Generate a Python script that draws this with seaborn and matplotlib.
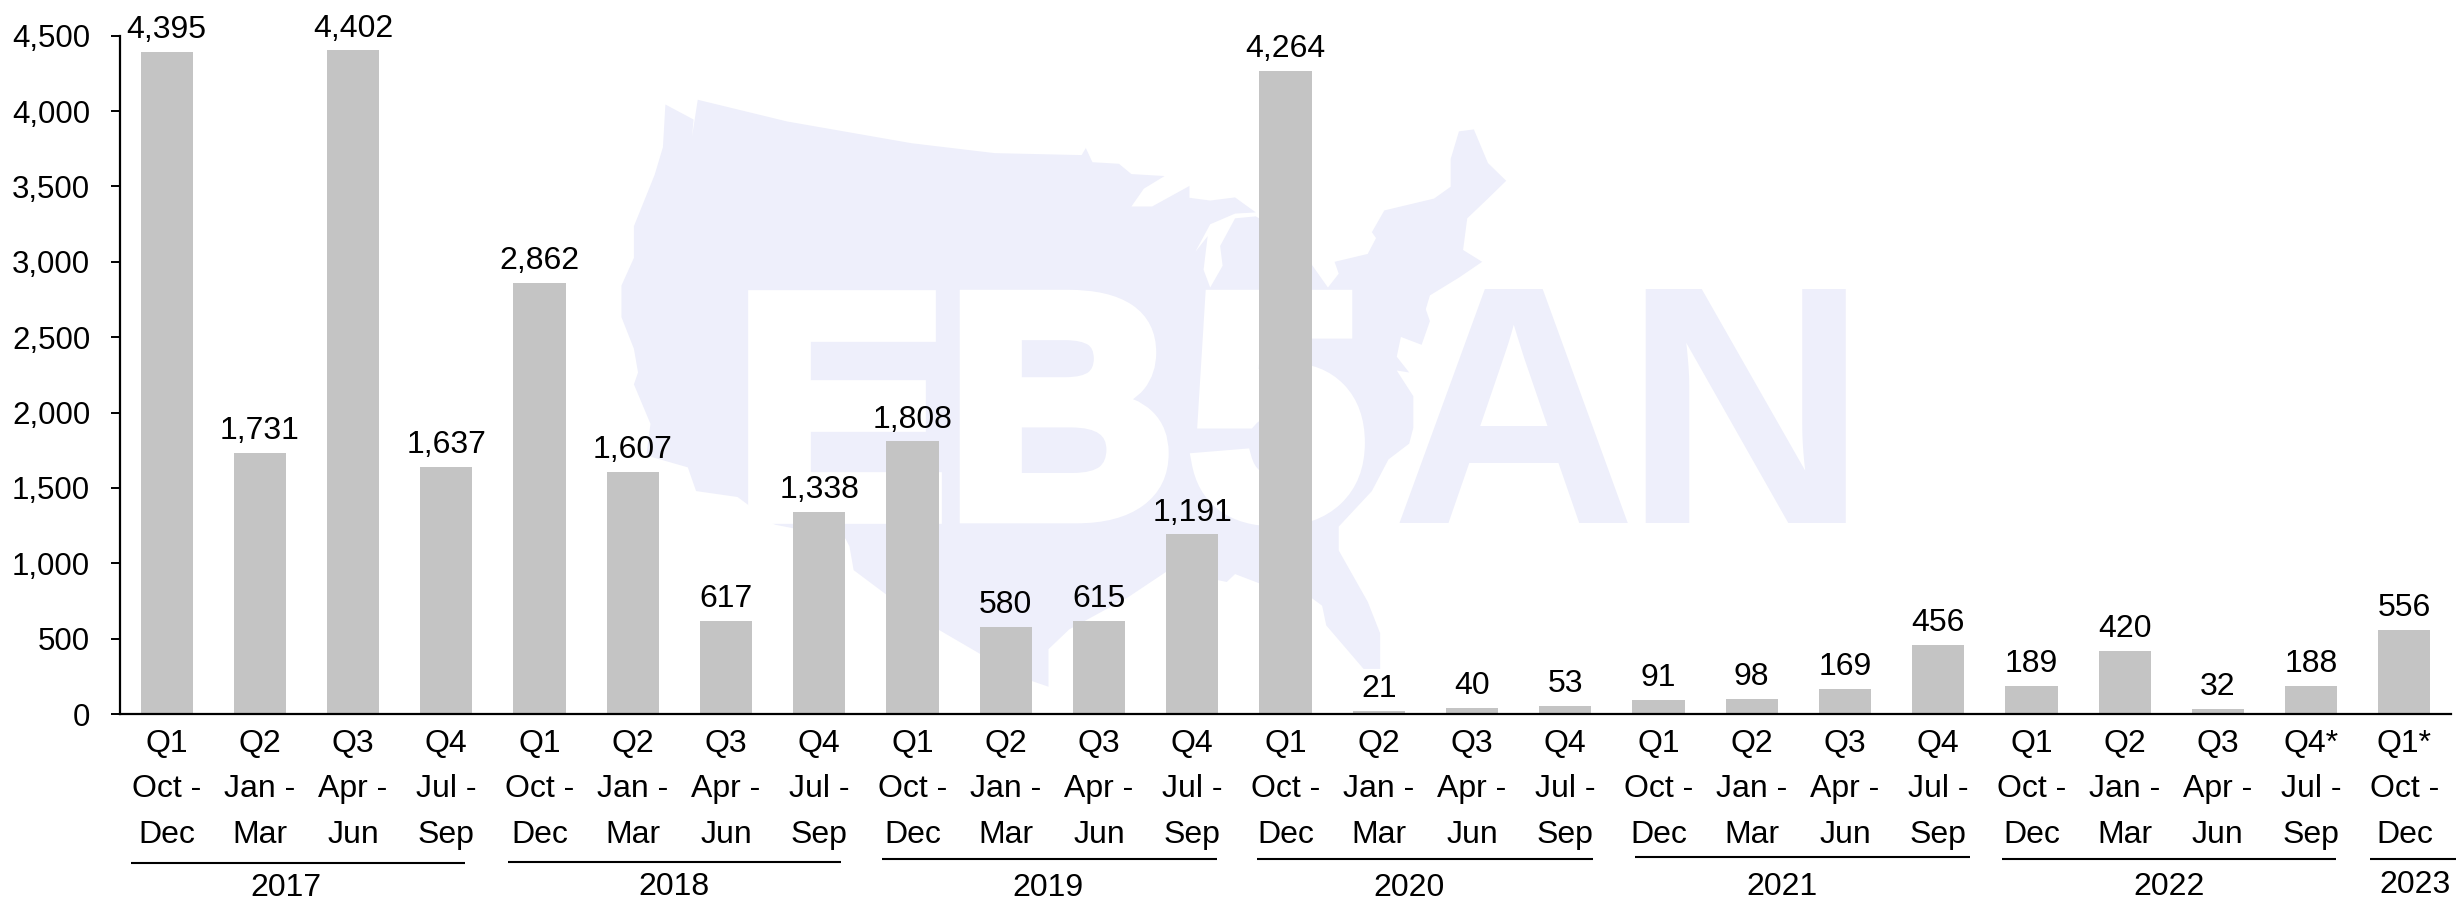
import numpy as np
import pandas as pd
import seaborn as sns
import matplotlib
matplotlib.use('Agg')
import matplotlib.pyplot as plt
import matplotlib.patheffects as pe
from matplotlib.patches import Polygon

# quarterly values, fiscal years 2017 - 2023
quarters = ['Q1', 'Q2', 'Q3', 'Q4'] * 6 + ['Q1']
quarters[23] = 'Q4*'
quarters[24] = 'Q1*'
months = ['Oct -\nDec', 'Jan -\nMar', 'Apr -\nJun', 'Jul -\nSep'] * 6 + ['Oct -\nDec']
values = [4395, 1731, 4402, 1637,
          2862, 1607, 617, 1338,
          1808, 580, 615, 1191,
          4264, 21, 40, 53,
          91, 98, 169, 456,
          189, 420, 32, 188,
          556]
y_ticks = [0, 500, 1000, 1500, 2000, 2500, 3000, 3500, 4000, 4500]

# year brackets under the axis: label, line start, line end, line y, label x, label y (pixels)
year_labels = ['2017', '2018', '2019', '2020', '2021', '2022', '2023']
year_x0 = [131, 508, 882, 1257, 1635, 2002, 2370]
year_x1 = [465, 841, 1217, 1593, 1970, 2336, 2456]
year_line_y = [863, 862, 859, 859, 857, 859, 859]
year_text_x = [286, 674, 1048, 1409, 1782, 2169, 2415]
year_text_y = [888, 887, 888, 888, 887, 887, 885]

# watermark outline in zoom coordinates
map_zx = [103, 137, 135, 142, 250, 400, 500, 605, 610, 618, 650, 665, 705, 680, 665, 690, 735, 735,
          760, 790, 815, 790, 760, 742, 757, 752, 760, 775, 772, 790, 815, 860, 902, 915, 910, 950, 960, 955, 970, 1030,
          1050, 1050, 1060, 1078, 1095, 1117, 1095, 1070, 1065, 1088, 1060, 1025, 1020, 1025, 1015,
          990, 985, 1000, 985, 1005, 1005, 1000, 975, 955, 915, 915, 950, 965, 965, 945, 900, 895,
          882, 840, 790, 780, 710, 660, 590, 565, 565, 530, 440, 400, 330, 325, 320, 235, 190, 140,
          130, 80, 85, 65, 70, 65, 50, 50, 65, 65, 90, 100]
map_zy = [62, 100, 145, 50, 105, 160, 185, 190, 172, 208, 212, 238, 243, 275, 320, 320, 268, 298,
          305, 297, 335, 338, 365, 435, 395, 480, 525, 470, 420, 350, 345, 400, 525, 490, 460, 440, 400, 385, 330, 300,
          270, 200, 130, 125, 210, 255, 300, 350, 430, 460, 500, 545, 580, 610, 670,
          650, 700, 740, 735, 800, 880, 920, 960, 1040, 1130, 1190, 1320, 1400, 1490, 1490, 1380, 1330,
          1310, 1290, 1250, 1270, 1240, 1310, 1390, 1440, 1535, 1510, 1400, 1350, 1240, 1180, 1160, 1125, 1055, 1040,
          980, 950, 870, 770, 740, 680, 600, 520, 450, 370, 240, 170]
wm_letters = ['E', 'B', '5', 'A', 'N']
wm_left = [735, 947, 1190, 1391, 1622]
wm_base = [515, 515, 515, 523, 523]
wm_size = [227, 227, 227, 245, 245]
wm_stroke = [12, 12, 12, 0, 0]
wm_color = ['white', 'white', 'white', '#EEEFFB', '#EEEFFB']

sns.set_theme(style='white')
plt.rcParams['font.family'] = ['Liberation Sans', 'DejaVu Sans']

W, H = 2456, 901
fig = plt.figure(figsize=(W / 100, H / 100), dpi=100)

# background layer, in pixel coordinates
bg = fig.add_axes([0, 0, 1, 1], zorder=0)
bg.set_xlim(0, W)
bg.set_ylim(H, 0)
bg.axis('off')
map_x = 580 + np.array(map_zx) / 1.206
map_y = 80 + np.array(map_zy) / 2.53
bg.add_patch(Polygon(np.column_stack([map_x, map_y]), closed=True, fc='#EEEFFB', ec='none'))
for i, s in enumerate(wm_letters):
    t = bg.text(wm_left[i], wm_base[i], s, color=wm_color[i], fontsize=wm_size[i], fontweight='bold',
                ha='left', va='baseline')
    if wm_stroke[i]:
        # logo letters are heavier than the font's bold
        t.set_path_effects([pe.withStroke(linewidth=wm_stroke[i], foreground=wm_color[i], joinstyle='miter')])

df = pd.DataFrame({'key': range(len(values)), 'value': values})
ax = fig.add_axes([120 / W, (H - 714) / H, 2331 / W, 678.3 / H], zorder=1)
ax.patch.set_alpha(0)
sns.barplot(data=df, x='key', y='value', color='#C4C4C4', saturation=1, width=0.56, linewidth=0, ax=ax)
ax.set_xlim(-0.5, 24.5)
ax.set_ylim(0, 4500)
ax.set_xlabel('')
ax.set_ylabel('')

ax.set_yticks(y_ticks)
ax.set_yticklabels([f'{v:,}' for v in y_ticks])
ax.set_xticks(range(len(values)))
ax.set_xticklabels([f'{q}\n{m}' for q, m in zip(quarters, months)], linespacing=1.66)
ax.tick_params(axis='x', length=0, pad=11, labelsize=23, colors='black')
ax.tick_params(axis='y', left=True, length=6.5, width=1.4, pad=15, labelsize=22.5, colors='black')

sns.despine(ax=ax)
for side in ['left', 'bottom']:
    ax.spines[side].set_color('black')
    ax.spines[side].set_linewidth(1.6)

ax.bar_label(ax.containers[0], labels=[f'{v:,}' for v in values], padding=5, fontsize=23, color='black')

# year brackets
top = fig.add_axes([0, 0, 1, 1], zorder=2)
top.set_xlim(0, W)
top.set_ylim(H, 0)
top.axis('off')
for i, lab in enumerate(year_labels):
    top.plot([year_x0[i], year_x1[i]], [year_line_y[i]] * 2, color='black', lw=1.5, solid_capstyle='butt')
    top.text(year_text_x[i], year_text_y[i], lab, fontsize=23, color='black', ha='center', va='center')

fig.savefig('out.png', dpi=100)
